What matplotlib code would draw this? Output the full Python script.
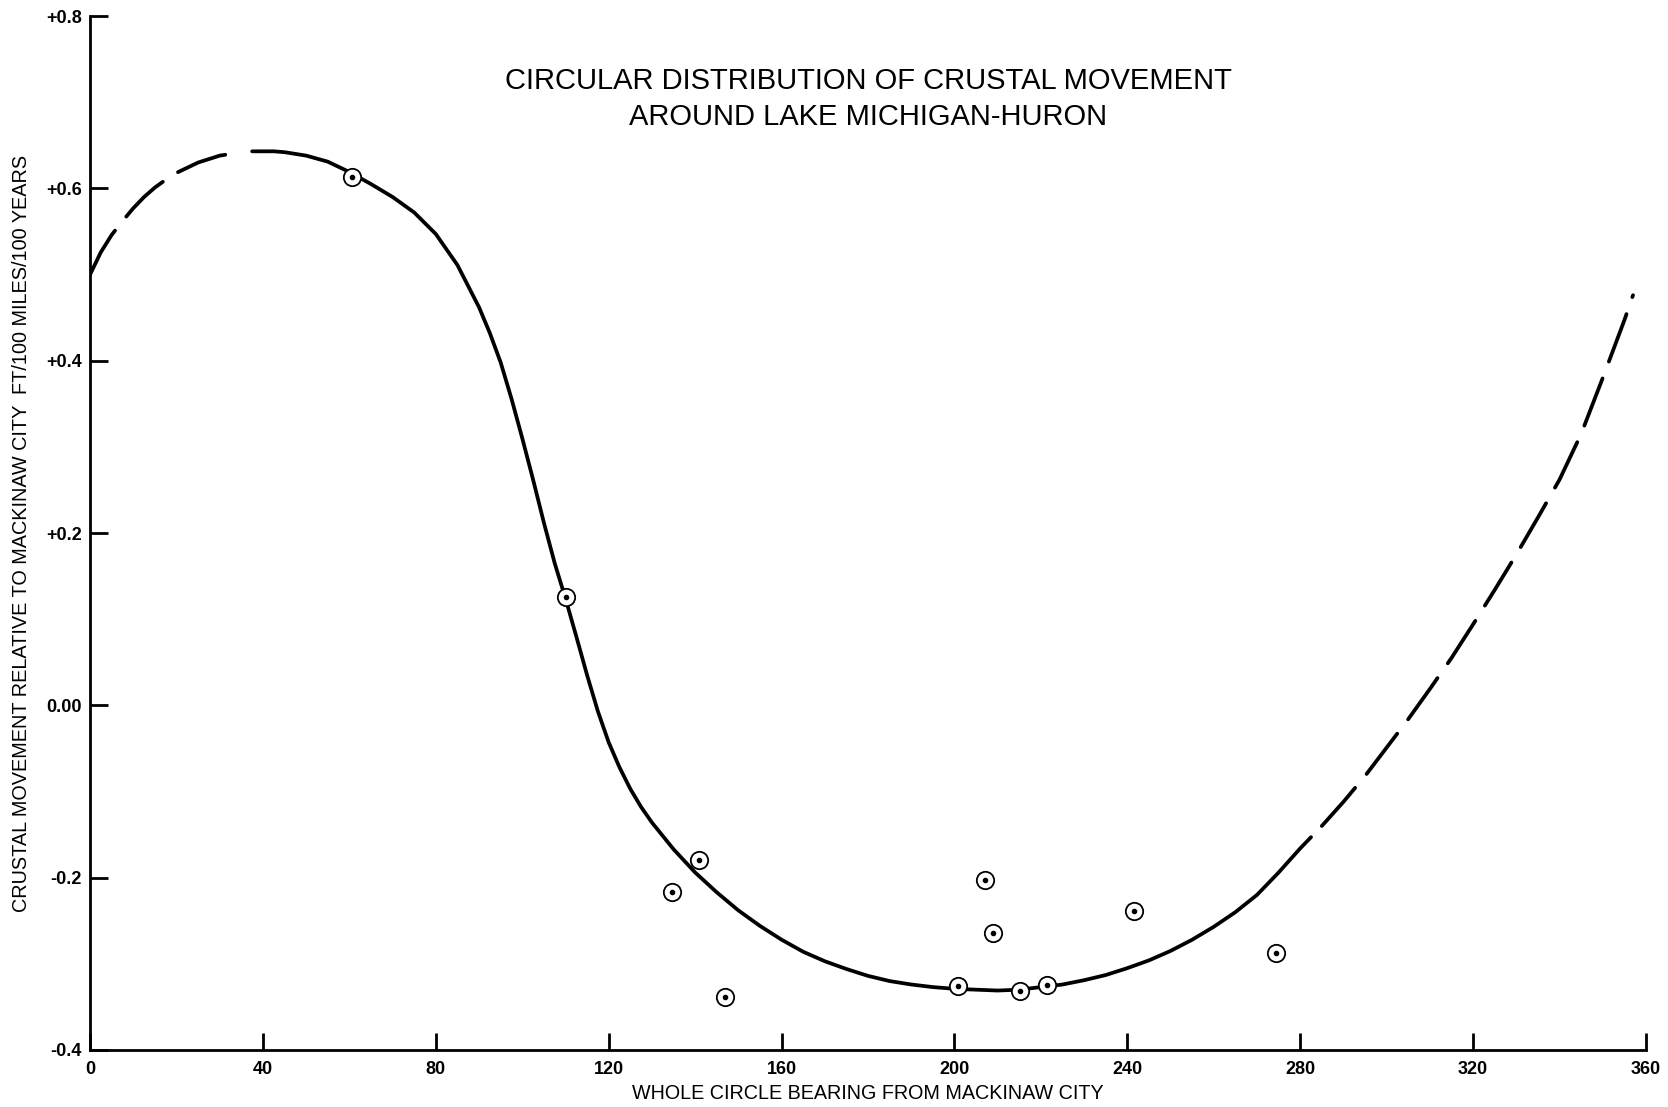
import matplotlib
matplotlib.use("Agg")
import matplotlib.pyplot as plt
import numpy as np

# ---------------- data ----------------
title_lines = ["CIRCULAR DISTRIBUTION OF CRUSTAL MOVEMENT", "AROUND LAKE MICHIGAN-HURON"]
x_label = "WHOLE CIRCLE BEARING FROM MACKINAW CITY"
y_label = "CRUSTAL MOVEMENT RELATIVE TO MACKINAW CITY  FT/100 MILES/100 YEARS"

x_ticks = [0, 40, 80, 120, 160, 200, 240, 280, 320, 360]
y_ticks = [0.8, 0.6, 0.4, 0.2, 0.0, -0.2, -0.4]
y_tick_labels = ["+0.8", "+0.6", "+0.4", "+0.2", "0.00", "-0.2", "-0.4"]

# observed stations (bearing, movement)
obs_bearing = [60.5, 110.1, 134.6, 140.9, 146.9, 200.9, 207.0, 209.0, 215.2, 221.4, 241.5, 274.4]
obs_movement = [0.613, 0.126, -0.217, -0.179, -0.339, -0.326, -0.203, -0.264, -0.331, -0.325, -0.239, -0.287]

# fitted curve
curve_bearing = [0, 2.5, 5, 7.5, 10, 12.5, 15, 17.5, 20, 22.5, 25, 27.5, 30, 32.5, 35,
                 37.5, 40, 42.5, 45, 50, 55, 60, 65, 70, 75, 80, 85, 90, 92.5, 95, 97.5,
                 100, 102.5, 105, 107.5, 110, 112.5, 115, 117.5, 120, 122.5, 125, 127.5,
                 130, 135, 140, 145, 150, 155, 160, 165, 170, 175, 180, 185, 190, 195,
                 200, 205, 210, 215, 220, 225, 230, 235, 240, 245, 250, 255, 260, 265,
                 270, 275, 280, 282.5,
                 285, 290, 295, 300, 305, 310, 315, 320, 325, 330, 335, 340, 345, 350,
                 355, 357]
curve_movement = [0.500, 0.526, 0.546, 0.562, 0.577, 0.590, 0.601, 0.610, 0.618, 0.624,
                  0.630, 0.634, 0.638, 0.640, 0.642,
                  0.643, 0.643, 0.643, 0.642, 0.638, 0.631, 0.619, 0.605, 0.590, 0.572,
                  0.547, 0.511, 0.462, 0.432, 0.398, 0.356, 0.310, 0.262, 0.212, 0.165,
                  0.124, 0.080, 0.035, -0.007, -0.043, -0.072, -0.097, -0.118, -0.136,
                  -0.167, -0.194, -0.217, -0.238, -0.256, -0.272, -0.286, -0.297, -0.306,
                  -0.314, -0.320, -0.324, -0.327, -0.329, -0.330, -0.331, -0.330, -0.327,
                  -0.324, -0.319, -0.313, -0.305, -0.296, -0.285, -0.272, -0.257, -0.240,
                  -0.220, -0.194, -0.166, -0.153,
                  -0.140, -0.112, -0.082, -0.049, -0.016, 0.019, 0.055, 0.094, 0.134,
                  0.175, 0.218, 0.262, 0.315, 0.380, 0.447, 0.476]

# bearing range drawn as a solid line (rest is dashed extrapolation)
solid_from, solid_to = 37.5, 282.5

# ---------------- figure ----------------
plt.rcParams['font.family'] = ['Liberation Sans', 'DejaVu Sans']
fig = plt.figure(figsize=(16.68, 11.07), dpi=100)
fig.patch.set_facecolor('white')
ax = fig.add_axes([0.054, 0.0515, 0.9328, 0.934])

cb = np.array(curve_bearing)
cm = np.array(curve_movement)
left = cb < solid_from
solid = (cb >= solid_from) & (cb <= solid_to)
right = cb > solid_to

ax.plot(cb[solid], cm[solid], color='black', lw=2.7, solid_capstyle='round',
        solid_joinstyle='round', zorder=3)
ax.plot(cb[left], cm[left], color='black', lw=2.7, dashes=(13.5, 4.8),
        dash_capstyle='round', zorder=3)
ax.plot(cb[right], cm[right], color='black', lw=2.7, dashes=(13.5, 4.8),
        dash_capstyle='round', zorder=3)

ax.plot(obs_bearing, obs_movement, linestyle='none', marker='o', markersize=12.5,
        markerfacecolor='white', markeredgecolor='black', markeredgewidth=1.3, zorder=4)
ax.plot(obs_bearing, obs_movement, linestyle='none', marker='o', markersize=3.0,
        markerfacecolor='black', markeredgecolor='black', zorder=5)

ax.set_xlim(0, 360)
ax.set_ylim(-0.4, 0.8)
for s in ['top', 'right']:
    ax.spines[s].set_visible(False)
for s in ['left', 'bottom']:
    ax.spines[s].set_linewidth(2.0)
    ax.spines[s].set_capstyle('projecting')

ax.set_xticks(x_ticks)
ax.set_xticklabels([str(t) for t in x_ticks])
ax.set_yticks(y_ticks)
ax.set_yticklabels(y_tick_labels)
ax.tick_params(axis='both', direction='in', width=2.0, color='black')
ax.tick_params(axis='y', length=13, pad=6.0)
ax.tick_params(axis='x', length=12, pad=8.0)
for lab in ax.get_xticklabels() + ax.get_yticklabels():
    lab.set_fontsize(13)
    lab.set_fontweight('bold')

ax.set_xlabel(x_label, fontsize=14.2, va='center', ha='center')
ax.xaxis.set_label_coords(0.5, -0.0416)
ax.set_ylabel(y_label, fontsize=14.3, va='center', ha='center')
ax.yaxis.set_label_coords(-0.0443, 0.5)

ax.text(0.5, 0.937, title_lines[0], transform=ax.transAxes, ha='center', va='center',
        fontsize=21)
ax.text(0.5, 0.902, title_lines[1], transform=ax.transAxes, ha='center', va='center',
        fontsize=21)

fig.savefig('out.png', dpi=100, facecolor='white')
